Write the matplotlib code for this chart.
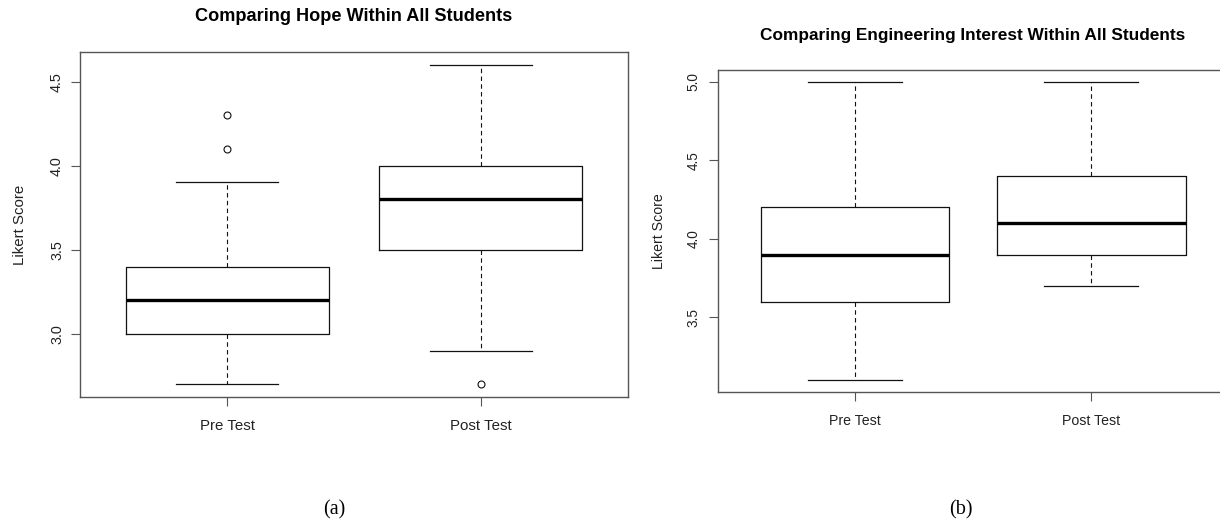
import matplotlib
matplotlib.use("Agg")
import matplotlib.pyplot as plt

plt.rcParams['font.family'] = ['Liberation Sans', 'DejaVu Sans']

groups = ["Pre Test", "Post Test"]

# panel (a): hope
hopeLow = [2.7, 2.9]
hopeQ1 = [3.0, 3.5]
hopeMed = [3.2, 3.8]
hopeQ3 = [3.4, 4.0]
hopeHigh = [3.9, 4.6]
hopeOut = [[4.1, 4.3], [2.7]]

# panel (b): engineering interest
engLow = [3.1, 3.7]
engQ1 = [3.6, 3.9]
engMed = [3.9, 4.1]
engQ3 = [4.2, 4.4]
engHigh = [5.0, 5.0]
engOut = [[], []]

frameColor = "#555555"
lineColor = "#111111"


def makeStats(low, q1, med, q3, high, out) :
	stats = []
	for i in range(0, len(groups)) :
		stats.append({"whislo": low[i], "q1": q1[i], "med": med[i], "q3": q3[i],
			"whishi": high[i], "fliers": out[i], "label": groups[i]})
	return stats


def drawPanel(ax, stats, title, yticks, sizes) :
	titleSize, tickSize, xtickSize, ySize, labelX, ypad, xpad, titleY = sizes
	ax.bxp(stats, positions=[1, 2], widths=0.8, capwidths=0.4, showfliers=True,
		boxprops=dict(color=lineColor, linewidth=0.9),
		medianprops=dict(color="black", linewidth=2.4, solid_capstyle="butt"),
		whiskerprops=dict(color=lineColor, linewidth=0.8, linestyle=(0, (4, 3))),
		capprops=dict(color=lineColor, linewidth=0.9),
		flierprops=dict(marker="o", markersize=5, markerfacecolor="none",
			markeredgecolor=lineColor, markeredgewidth=0.8))
	allValues = []
	for s in stats :
		allValues += [s["whislo"], s["whishi"]] + list(s["fliers"])
	lo = min(allValues)
	hi = max(allValues)
	ext = (hi - lo) * 0.04
	ax.set_ylim(lo - ext, hi + ext)
	ax.set_xlim(0.42, 2.58)
	ax.set_yticks(yticks)
	ax.set_yticklabels([f"{t:.1f}" for t in yticks], rotation=90, va="center",
		fontsize=tickSize, color="#222222")
	ax.set_xticks([1, 2])
	ax.set_xticklabels(groups, fontsize=xtickSize, color="#222222")
	ax.tick_params(axis="y", length=6.5, width=0.8, color=frameColor, pad=ypad)
	ax.tick_params(axis="x", length=6.5, width=0.8, color=frameColor, pad=xpad)
	for sp in ax.spines.values() :
		sp.set_color(frameColor)
		sp.set_linewidth(1.0)
	ax.set_ylabel("Likert Score", fontsize=ySize, color="#222222", va="center")
	ax.yaxis.set_label_coords(labelX, 0.5)
	ax.set_title(title, fontsize=titleSize, fontweight="bold", pad=0, y=titleY)


fig = plt.figure(figsize=(12.2, 5.23), dpi=100)

axA = fig.add_axes([80 / 1220, 1 - 397 / 523, 548 / 1220, 345 / 523])
drawPanel(axA, makeStats(hopeLow, hopeQ1, hopeMed, hopeQ3, hopeHigh, hopeOut),
	"Comparing Hope Within All Students", [3.0, 3.5, 4.0, 4.5],
	(13.1, 10.4, 10.8, 10.8, -0.110, 5, 9, 1 + 31 / 345))

axB = fig.add_axes([718 / 1220, 1 - 392 / 523, 510 / 1220, 322 / 523])
drawPanel(axB, makeStats(engLow, engQ1, engMed, engQ3, engHigh, engOut),
	"Comparing Engineering Interest Within All Students", [3.5, 4.0, 4.5, 5.0],
	(12.4, 9.8, 10.2, 10.2, -0.116, 6, 9.5, 1 + 29.5 / 322))

fig.text(334 / 1220, 1 - 510 / 523, "(a)", family="Liberation Serif", fontsize=14.5,
	ha="center", va="center")
fig.text(961 / 1220, 1 - 510 / 523, "(b)", family="Liberation Serif", fontsize=14.5,
	ha="center", va="center")

fig.savefig("out.png", dpi=100)
